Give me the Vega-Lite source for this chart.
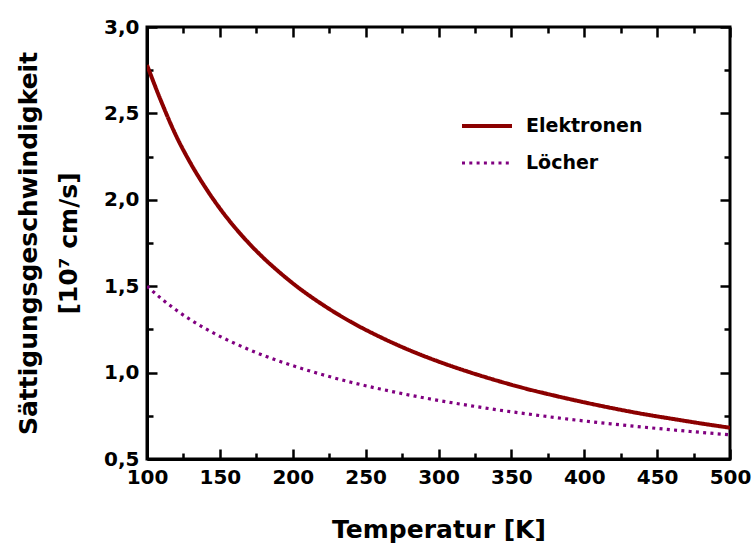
{
  "$schema": "https://vega.github.io/schema/vega-lite/v6.json",
  "width": 583,
  "height": 432,
  "autosize": {"type": "none"},
  "padding": {"left": 147, "top": 27, "right": 24, "bottom": 88},
  "background": "white",
  "config": {
    "view": {"stroke": "black", "strokeWidth": 3},
    "font": "DejaVu Sans",
    "axis": {"domainColor": "black", "domainWidth": 3, "tickColor": "black", "tickWidth": 2.5, "grid": false,
      "labelFont": "DejaVu Sans", "labelFontSize": 20, "labelFontWeight": "bold", "labelColor": "black",
      "titleFont": "DejaVu Sans", "titleFontSize": 25, "titleFontWeight": "bold", "titleColor": "black"}
  },
  "data": {"values": [
    {"T":100,"v":2.78,"s":"Elektronen"},{"T":110,"v":2.564,"s":"Elektronen"},{"T":120,"v":2.370,"s":"Elektronen"},{"T":130,"v":2.210,"s":"Elektronen"},{"T":140,"v":2.072,"s":"Elektronen"},{"T":150,"v":1.950,"s":"Elektronen"},{"T":160,"v":1.843,"s":"Elektronen"},{"T":170,"v":1.748,"s":"Elektronen"},{"T":180,"v":1.663,"s":"Elektronen"},{"T":190,"v":1.587,"s":"Elektronen"},{"T":200,"v":1.517,"s":"Elektronen"},{"T":220,"v":1.396,"s":"Elektronen"},{"T":240,"v":1.293,"s":"Elektronen"},{"T":260,"v":1.206,"s":"Elektronen"},{"T":280,"v":1.130,"s":"Elektronen"},{"T":300,"v":1.064,"s":"Elektronen"},{"T":320,"v":1.006,"s":"Elektronen"},{"T":340,"v":0.954,"s":"Elektronen"},{"T":360,"v":0.907,"s":"Elektronen"},{"T":380,"v":0.866,"s":"Elektronen"},{"T":400,"v":0.828,"s":"Elektronen"},{"T":420,"v":0.793,"s":"Elektronen"},{"T":440,"v":0.761,"s":"Elektronen"},{"T":460,"v":0.733,"s":"Elektronen"},{"T":480,"v":0.706,"s":"Elektronen"},{"T":500,"v":0.681,"s":"Elektronen"},
    {"T":100,"v":1.5,"s":"Löcher"},{"T":110,"v":1.427,"s":"Löcher"},{"T":120,"v":1.362,"s":"Löcher"},{"T":130,"v":1.305,"s":"Löcher"},{"T":140,"v":1.255,"s":"Löcher"},{"T":150,"v":1.210,"s":"Löcher"},{"T":160,"v":1.170,"s":"Löcher"},{"T":170,"v":1.133,"s":"Löcher"},{"T":180,"v":1.099,"s":"Löcher"},{"T":190,"v":1.068,"s":"Löcher"},{"T":200,"v":1.040,"s":"Löcher"},{"T":220,"v":0.989,"s":"Löcher"},{"T":240,"v":0.944,"s":"Löcher"},{"T":260,"v":0.905,"s":"Löcher"},{"T":280,"v":0.870,"s":"Löcher"},{"T":300,"v":0.839,"s":"Löcher"},{"T":320,"v":0.811,"s":"Löcher"},{"T":340,"v":0.785,"s":"Löcher"},{"T":360,"v":0.762,"s":"Löcher"},{"T":380,"v":0.740,"s":"Löcher"},{"T":400,"v":0.720,"s":"Löcher"},{"T":420,"v":0.702,"s":"Löcher"},{"T":440,"v":0.685,"s":"Löcher"},{"T":460,"v":0.669,"s":"Löcher"},{"T":480,"v":0.654,"s":"Löcher"},{"T":500,"v":0.640,"s":"Löcher"}
  ]},
  "layer": [
    {
      "mark": {"type": "line", "interpolate": "monotone", "clip": true},
      "encoding": {
        "x": {"field": "T", "type": "quantitative", "scale": {"domain": [100, 500], "nice": false},
          "axis": {"orient": "bottom", "title": "Temperatur [K]", "titlePadding": 30,
            "values": [100,150,200,250,300,350,400,450,500],
            "tickSize": -10,
            "labelPadding": 18, "labelFlush": false, "labelOverlap": false}},
        "y": {"field": "v", "type": "quantitative", "scale": {"domain": [0.5, 3.0], "nice": false, "zero": false},
          "axis": {"orient": "left", "title": ["Sättigungsgeschwindigkeit", "[10⁷ cm/s]"], "titlePadding": 22, "titleLineHeight": 40,
            "values": [0.5,1.0,1.5,2.0,2.5,3.0],
            "labelExpr": "replace(format(datum.value, '.1f'), '.', ',')",
            "tickSize": -10,
            "labelPadding": 18, "labelFlush": false, "labelOverlap": false}},
        "color": {"field": "s", "type": "nominal",
          "scale": {"domain": ["Elektronen", "Löcher"], "range": ["#8B0000", "#800080"]},
          "legend": {"orient": "none", "legendX": 313, "legendY": 72, "title": null,
            "labelFont": "DejaVu Sans", "labelFontSize": 19, "labelFontWeight": "bold", "labelColor": "black",
            "symbolType": "stroke", "symbolSize": 2500, "symbolStrokeWidth": 4, "rowPadding": -25, "labelOffset": 12}},
        "strokeDash": {"field": "s", "type": "nominal",
          "scale": {"domain": ["Elektronen", "Löcher"], "range": [[1, 0], [3, 4.3]]}, "legend": null},
        "strokeWidth": {"field": "s", "type": "nominal",
          "scale": {"domain": ["Elektronen", "Löcher"], "range": [4, 3.2]}, "legend": null}
      }
    },
    {
      "mark": {"type": "point", "opacity": 0},
      "encoding": {
        "x": {"field": "T", "type": "quantitative",
          "axis": {"orient": "bottom", "title": null, "labels": false, "domain": false,
            "values": [125,175,225,275,325,375,425,475], "tickSize": -6}},
        "y": {"field": "v", "type": "quantitative",
          "axis": {"orient": "left", "title": null, "labels": false, "domain": false,
            "values": [0.75,1.25,1.75,2.25,2.75], "tickSize": -6}}
      }
    },
    {
      "mark": {"type": "point", "opacity": 0},
      "encoding": {
        "x": {"field": "T", "type": "quantitative",
          "axis": {"orient": "top", "title": null, "labels": false, "domain": false,
            "values": [100,150,200,250,300,350,400,450,500], "tickSize": -10}},
        "y": {"field": "v", "type": "quantitative",
          "axis": {"orient": "right", "title": null, "labels": false, "domain": false,
            "values": [0.5,1.0,1.5,2.0,2.5,3.0], "tickSize": -10}}
      }
    },
    {
      "mark": {"type": "point", "opacity": 0},
      "encoding": {
        "x": {"field": "T", "type": "quantitative",
          "axis": {"orient": "top", "title": null, "labels": false, "domain": false,
            "values": [125,175,225,275,325,375,425,475], "tickSize": -6}},
        "y": {"field": "v", "type": "quantitative",
          "axis": {"orient": "right", "title": null, "labels": false, "domain": false,
            "values": [0.75,1.25,1.75,2.25,2.75], "tickSize": -6}}
      }
    }
  ],
  "resolve": {"axis": {"x": "independent", "y": "independent"}}
}
